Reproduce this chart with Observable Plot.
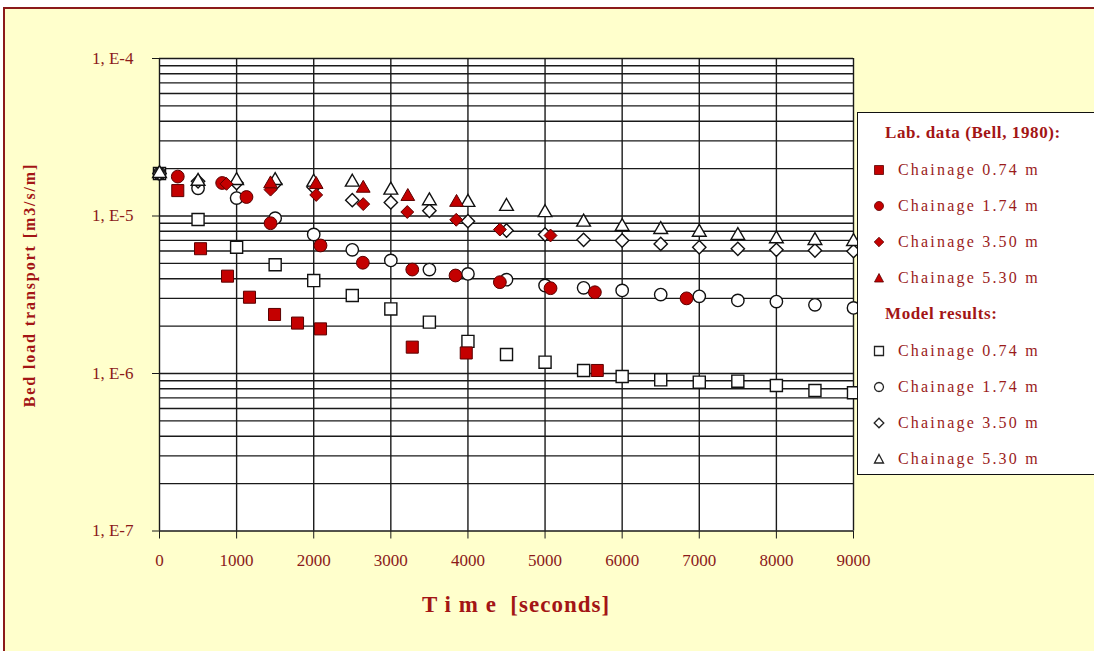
<!DOCTYPE html>
<html>
<head>
<meta charset="utf-8">
<script src="https://cdn.jsdelivr.net/npm/d3@7"></script>
<script src="https://cdn.jsdelivr.net/npm/@observablehq/plot@0.6"></script>
<style>
  html, body { margin: 0; padding: 0; background: #ffffff; }
  #wrap { position: relative; width: 1094px; height: 651px; overflow: hidden; background: #ffffff; font-family: "Liberation Serif", "Times New Roman", serif; }
  #panel { position: absolute; left: 3px; top: 7px; width: 1200px; height: 700px; background: #FFFFCC; border: 2px solid #8b1a1a; box-sizing: border-box; }
  #chart { position: absolute; left: 0; top: 0; }
  .ttl { position: absolute; color: #a31515; font-weight: bold; white-space: nowrap; }
  #xtitle { left: 516px; top: 605px; font-size: 23px; letter-spacing: 1px; transform: translate(-50%, -50%); }
  #ytitle { left: 30px; top: 285px; font-size: 16px; letter-spacing: 1.9px; transform: translate(-50%, -50%) rotate(-90deg); }
  #legend { position: absolute; left: 857px; top: 112px; width: 240px; height: 363px; background: #ffffff; border: 1.5px solid #111; box-sizing: border-box; }
  .lg-h { position: absolute; left: 27px; font-weight: bold; font-size: 17px; letter-spacing: 0.6px; color: #a31515; white-space: nowrap; transform: translateY(-50%); }
  .lg-i { position: absolute; left: 40px; font-size: 16px; letter-spacing: 2.2px; color: #9a1b1b; white-space: nowrap; transform: translateY(-50%); }
  .lg-m { position: absolute; left: 13px; width: 16px; height: 16px; transform: translateY(-50%); }
</style>
</head>
<body>
<div id="wrap">
  <div id="panel"></div>
  <div id="chart"></div>
  <div class="ttl" id="ytitle">Bed load transport [m3/s/m]</div>
  <div class="ttl" id="xtitle">T i m e&nbsp; [seconds]</div>
  <div id="legend"></div>
</div>
<script>
// ---------- data ----------
const xTicks = [0, 1000, 2000, 3000, 4000, 5000, 6000, 7000, 8000, 9000];
const yDecades = [1e-7, 1e-6, 1e-5, 1e-4];
const yTickLabels = ["1, E-7", "1, E-6", "1, E-5", "1, E-4"];
const gridMultipliers = [1, 2, 3, 4, 5, 6, 7, 8, 9];

// Lab data (Bell, 1980)
const lab074T = [237, 532, 882, 1167, 1492, 1790, 2088, 3278, 3978, 5677];
const lab074V = [1.45e-5, 6.2e-6, 4.15e-6, 3.05e-6, 2.37e-6, 2.09e-6, 1.92e-6, 1.47e-6, 1.35e-6, 1.045e-6];
const lab174T = [237, 813, 1128, 1440, 2088, 2637, 3278, 3839, 4414, 5071, 5646, 6835];
const lab174V = [1.78e-5, 1.62e-5, 1.32e-5, 9.0e-6, 6.5e-6, 5.05e-6, 4.57e-6, 4.19e-6, 3.8e-6, 3.48e-6, 3.28e-6, 3.0e-6];
const lab350T = [869, 1440, 2032, 2642, 3213, 3848, 4414, 5071];
const lab350V = [1.6e-5, 1.47e-5, 1.36e-5, 1.19e-5, 1.06e-5, 9.46e-6, 8.2e-6, 7.52e-6];
const lab530T = [1440, 2032, 2642, 3220, 3852];
const lab530V = [1.6e-5, 1.585e-5, 1.5e-5, 1.33e-5, 1.22e-5];

// Model results
const modelT = [0, 500, 1000, 1500, 2000, 2500, 3000, 3500, 4000, 4500, 5000, 5500, 6000, 6500, 7000, 7500, 8000, 8500, 9000];
const model074V = [1.86e-5, 9.5e-6, 6.33e-6, 4.9e-6, 3.89e-6, 3.13e-6, 2.57e-6, 2.12e-6, 1.6e-6, 1.32e-6, 1.18e-6, 1.045e-6, 9.57e-7, 9.12e-7, 8.81e-7, 8.94e-7, 8.39e-7, 7.8e-7, 7.55e-7];
const model174V = [1.86e-5, 1.5e-5, 1.3e-5, 9.68e-6, 7.63e-6, 6.1e-6, 5.22e-6, 4.57e-6, 4.29e-6, 3.94e-6, 3.62e-6, 3.5e-6, 3.37e-6, 3.17e-6, 3.09e-6, 2.91e-6, 2.86e-6, 2.73e-6, 2.61e-6];
const model350V = [1.86e-5, 1.66e-5, 1.62e-5, 1.6e-5, 1.52e-5, 1.26e-5, 1.22e-5, 1.08e-5, 9.27e-6, 8.09e-6, 7.63e-6, 7.06e-6, 6.99e-6, 6.65e-6, 6.33e-6, 6.19e-6, 6.1e-6, 6.04e-6, 5.98e-6];
const model530V = [1.86e-5, 1.66e-5, 1.68e-5, 1.68e-5, 1.64e-5, 1.64e-5, 1.46e-5, 1.25e-5, 1.22e-5, 1.15e-5, 1.05e-5, 9.14e-6, 8.58e-6, 8.21e-6, 7.89e-6, 7.52e-6, 7.17e-6, 6.99e-6, 6.89e-6];

const legendLabHeader = "Lab. data (Bell, 1980):";
const legendModelHeader = "Model results:";
const legendLabels = ["Chainage 0.74 m", "Chainage 1.74 m", "Chainage 3.50 m", "Chainage 5.30 m"];

// ---------- build ----------
const pts = (ts, vs) => ts.map((t, i) => ({t, v: vs[i]}));
const gridVals = yDecades.slice(0, 3).flatMap(d => gridMultipliers.map(m => d * m)).concat([yDecades[3]]);

const RED = "#c40000", RED_STROKE = "#5a0000";
const labStyle = {fill: RED, stroke: RED_STROKE, strokeWidth: 1};
const modStyle = {fill: "white", stroke: "#111", strokeWidth: 1.4};

const plot = Plot.plot({
  width: 1094,
  height: 651,
  marginLeft: 159,
  marginRight: 241,
  marginTop: 58,
  marginBottom: 120.5,
  style: {background: "transparent", fontFamily: "'Liberation Serif', 'Times New Roman', serif", fontSize: "17px"},
  x: {domain: [0, 9000]},
  y: {type: "log", domain: [1e-7, 1e-4]},
  marks: [
    Plot.frame({fill: "white", stroke: "none"}),
    Plot.ruleY(gridVals, {stroke: "#1a1a1a", strokeWidth: 1.4}),
    Plot.ruleX(xTicks, {stroke: "#1a1a1a", strokeWidth: 1.4}),
    Plot.axisX({ticks: xTicks, tickSize: 8, tickPadding: 15, tickFormat: d => String(d), stroke: "#1a1a1a", fill: "#8b1a1a", fontSize: 17, label: null}),
    Plot.axisY({ticks: yDecades, tickSize: 7, tickPadding: 19, tickFormat: d => yTickLabels[yDecades.indexOf(d)], stroke: "#1a1a1a", fill: "#8b1a1a", fontSize: 17, label: null}),
    // model results
    Plot.dot(pts(modelT, model074V), {x: "t", y: "v", symbol: "square", r: 6.8, ...modStyle}),
    Plot.dot(pts(modelT, model174V), {x: "t", y: "v", symbol: "circle", r: 6.2, ...modStyle}),
    Plot.dot(pts(modelT, model350V), {x: "t", y: "v", symbol: "diamond2", r: 6, ...modStyle}),
    Plot.dot(pts(modelT, model530V), {x: "t", y: "v", symbol: "triangle", r: 5.1, ...modStyle}),
    // lab data
    Plot.dot(pts(lab074T, lab074V), {x: "t", y: "v", symbol: "square", r: 6.8, ...labStyle}),
    Plot.dot(pts(lab174T, lab174V), {x: "t", y: "v", symbol: "circle", r: 6.4, ...labStyle}),
    Plot.dot(pts(lab350T, lab350V), {x: "t", y: "v", symbol: "diamond2", r: 5.8, ...labStyle}),
    Plot.dot(pts(lab530T, lab530V), {x: "t", y: "v", symbol: "triangle", r: 5.1, ...labStyle})
  ]
});
document.getElementById("chart").appendChild(plot);

// ---------- legend ----------
const legend = document.getElementById("legend");
const symbols = ["square", "circle", "diamond2", "triangle"];
const symbolPath = {
  square: "M3.5,3.5H12.5V12.5H3.5Z",
  circle: "M8,3.5A4.5,4.5 0 1 1 7.99,3.5Z",
  diamond2: "M8,3.2L12.8,8L8,12.8L3.2,8Z",
  triangle: "M8,3.5L12.5,12L3.5,12Z"
};
function addHeader(text, y) {
  const d = document.createElement("div");
  d.className = "lg-h"; d.style.top = y + "px"; d.textContent = text;
  legend.appendChild(d);
}
function addItem(label, sym, lab, y) {
  const m = document.createElementNS("http://www.w3.org/2000/svg", "svg");
  m.setAttribute("class", "lg-m"); m.setAttribute("viewBox", "0 0 16 16");
  m.style.top = y + "px";
  const p = document.createElementNS("http://www.w3.org/2000/svg", "path");
  p.setAttribute("d", symbolPath[sym]);
  p.setAttribute("fill", lab ? RED : "white");
  p.setAttribute("stroke", lab ? RED_STROKE : "#222");
  p.setAttribute("stroke-width", lab ? 0.8 : 1.3);
  m.appendChild(p);
  legend.appendChild(m);
  const d = document.createElement("div");
  d.className = "lg-i"; d.style.top = y + "px"; d.textContent = label;
  legend.appendChild(d);
}
addHeader(legendLabHeader, 20);
legendLabels.forEach((l, i) => addItem(l, symbols[i], true, 57 + i * 36));
addHeader(legendModelHeader, 201);
legendLabels.forEach((l, i) => addItem(l, symbols[i], false, 238 + i * 36));
</script>
</body>
</html>
